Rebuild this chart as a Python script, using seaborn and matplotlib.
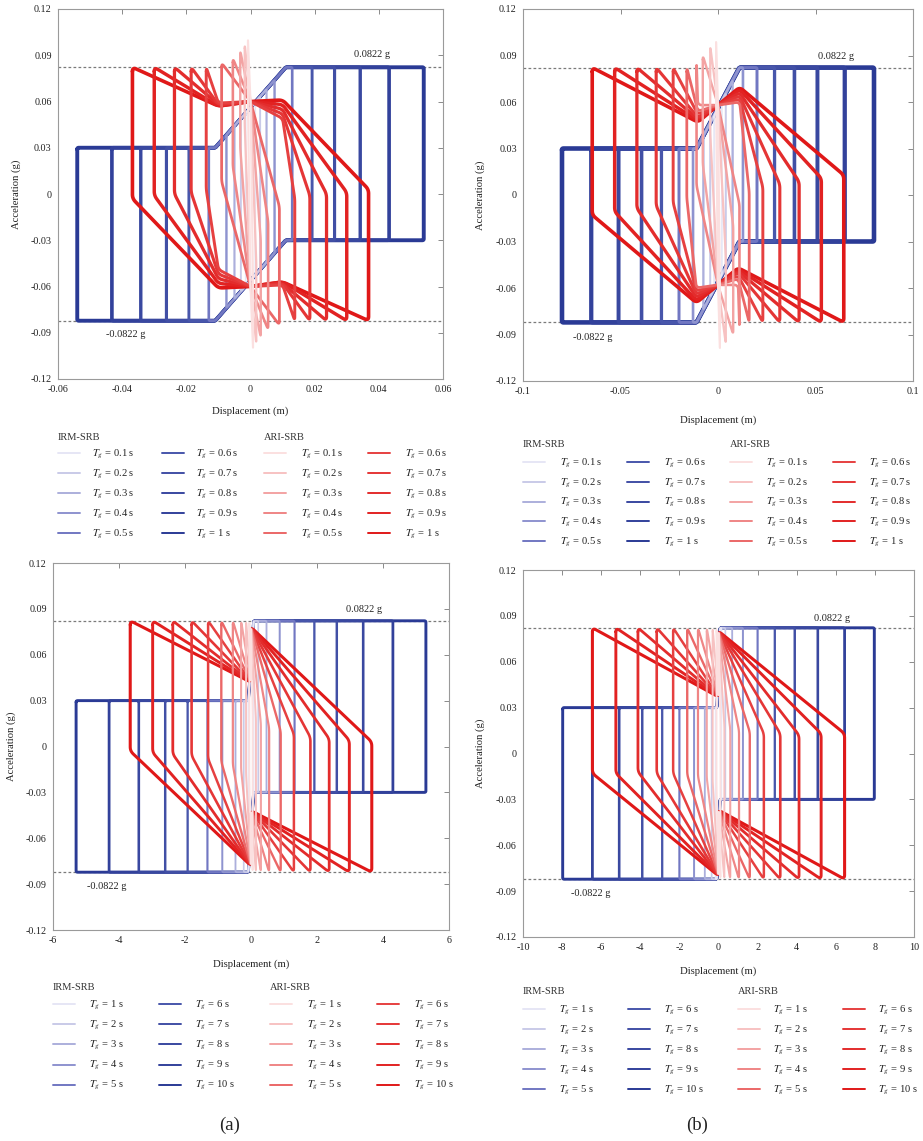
import numpy as np
import matplotlib
matplotlib.use("Agg")
import matplotlib.pyplot as plt
import seaborn as sns
from matplotlib.colors import to_rgb
from matplotlib.lines import Line2D

sns.set_theme(style="white")
plt.rcParams["font.family"] = ["Liberation Serif", "DejaVu Serif"]
plt.rcParams["mathtext.fontset"] = "stix"

# ---------------------------------------------------------------- data
LIMIT = 0.0822                      # peak ground acceleration (g)
IRM_LOW = 0.03                      # IRM-SRB lower force level (g)

tg_short = [0.1, 0.2, 0.3, 0.4, 0.5, 0.6, 0.7, 0.8, 0.9, 1.0]
tg_long = [1, 2, 3, 4, 5, 6, 7, 8, 9, 10]

# (a) top: Tg = 0.1 ... 1 s
a1_irm_amp = [0.0015, 0.0030, 0.0050, 0.0075, 0.0130, 0.0192, 0.0262, 0.0342, 0.0432, 0.0540]
a1_irm_yield = 0.011
a1_ari_amp = [0.0008, 0.0018, 0.0032, 0.0055, 0.0090, 0.0138, 0.0185, 0.0237, 0.0300, 0.0368]
a1_ari_peak = [0.101, 0.097, 0.093, 0.088, 0.085, 0.0822, 0.0822, 0.0822, 0.0822, 0.0822]
a1_ari_end = [-0.060, -0.045, -0.030, -0.018, -0.008, -0.003, -0.001, 0.000, 0.001, 0.003]
a1_knee_x = [-0.010, 0.0, 0.010]
a1_knee_left = [0.060, 0.060, 0.060, 0.060, 0.060, 0.059, 0.058, 0.058, 0.057, 0.057]
a1_knee_mid = 0.060
a1_knee_right = [0.060, 0.060, 0.060, 0.060, 0.060, 0.049, 0.052, 0.055, 0.058, 0.061]

# (b) top: Tg = 0.1 ... 1 s
b1_irm_amp = [0.0020, 0.0040, 0.0075, 0.0128, 0.0200, 0.0290, 0.0392, 0.0510, 0.0650, 0.0800]
b1_irm_yield = 0.011
b1_ari_amp = [0.0010, 0.0040, 0.0078, 0.0110, 0.0160, 0.0230, 0.0317, 0.0416, 0.0530, 0.0645]
b1_ari_peak = [0.100, 0.096, 0.090, 0.085, 0.0822, 0.0822, 0.0822, 0.0822, 0.0822, 0.0822]
b1_ari_end = [-0.060, -0.040, -0.020, -0.006, 0.002, 0.005, 0.007, 0.0086, 0.0108, 0.0129]
b1_knee_x = [-0.0103, 0.0, 0.0111]
b1_knee_left = [0.058, 0.058, 0.058, 0.058, 0.054, 0.052, 0.050, 0.049, 0.048, 0.047]
b1_knee_mid = 0.058
b1_knee_right = [0.058, 0.058, 0.058, 0.058, 0.060, 0.062, 0.064, 0.066, 0.068, 0.0695]

# (a) bottom: Tg = 1 ... 10 s
a2_irm_amp = [0.08, 0.22, 0.47, 0.87, 1.32, 1.92, 2.60, 3.40, 4.30, 5.30]
a2_irm_yield = 0.08
a2_ari_amp = [0.05, 0.15, 0.30, 0.55, 0.90, 1.30, 1.80, 2.37, 2.98, 3.66]
a2_ari_end = [0.020, 0.018, 0.015, 0.012, 0.010, 0.008, 0.006, 0.005, 0.004, 0.003]
a2_jump = [0.042, 0.078]

# (b) bottom: Tg = 1 ... 10 s
b2_irm_amp = [0.15, 0.35, 0.70, 1.25, 2.00, 2.88, 3.90, 5.08, 6.45, 7.97]
b2_irm_yield = 0.08
b2_ari_amp = [0.10, 0.30, 0.60, 1.05, 1.60, 2.32, 3.16, 4.12, 5.25, 6.45]
b2_ari_end = [0.020, 0.018, 0.016, 0.015, 0.014, 0.013, 0.013, 0.012, 0.013, 0.013]
b2_jump = [0.037, 0.080]

x_ticks_a1 = [-0.06, -0.04, -0.02, 0, 0.02, 0.04, 0.06]
x_ticks_b1 = [-0.1, -0.05, 0, 0.05, 0.1]
x_ticks_a2 = [-6, -4, -2, 0, 2, 4, 6]
x_ticks_b2 = [-10, -8, -6, -4, -2, 0, 2, 4, 6, 8, 10]
y_ticks = [-0.12, -0.09, -0.06, -0.03, 0, 0.03, 0.06, 0.09, 0.12]

# ---------------------------------------------------------------- helpers
W, H = 923, 1141


def fx(px):
    return px / W


def fy(py):
    return 1 - py / H


def ramp(c0, c1, n):
    a, b = np.array(to_rgb(c0)), np.array(to_rgb(c1))
    return [tuple(a + (b - a) * t) for t in np.linspace(0, 1, n)]


BLUES = ramp("#e6e6f5", "#7177c2", 5) + ramp("#4856ab", "#2a3a95", 5)
REDS = ramp("#fbe0e0", "#eb6767", 5) + ramp("#e64040", "#e01818", 5)


def closed_loop(xs, ys):
    """Upper branch followed by its point reflection gives the full cycle."""
    xs = np.asarray(xs, float)
    ys = np.asarray(ys, float)
    return np.concatenate([xs, -xs, xs[:1]]), np.concatenate([ys, -ys, ys[:1]])


def rounded(px, py, sx, sy, d, n=7):
    pts = np.column_stack([px / sx, py / sy])[:-1]
    keep = [pts[0]]
    for p in pts[1:]:
        if np.hypot(*(p - keep[-1])) > 1e-9:
            keep.append(p)
    pts = np.array(keep)
    if np.hypot(*(pts[0] - pts[-1])) < 1e-9:
        pts = pts[:-1]
    m = len(pts)
    t = np.linspace(0, 1, n)[:, None]
    out = []
    for i in range(m):
        p0, p1, p2 = pts[i - 1], pts[i], pts[(i + 1) % m]
        v0, v2 = p0 - p1, p2 - p1
        l0, l2 = np.hypot(*v0), np.hypot(*v2)
        a = p1 + v0 * min(d, 0.45 * l0) / l0
        b = p1 + v2 * min(d, 0.45 * l2) / l2
        out.append((1 - t) ** 2 * a + 2 * (1 - t) * t * p1 + t ** 2 * b)
    out = np.vstack(out + [out[0][:1]])
    return out[:, 0] * sx, out[:, 1] * sy


def irm_branch(amp, dy):
    xs = [-amp] + [k for k in (-dy, dy) if -amp < k < amp] + [amp]
    ys = np.interp(xs, [-dy, dy], [IRM_LOW, LIMIT])
    return xs, ys


def ari_branch(amp, peak, end, knots):
    xs, ys = [-amp], [peak]
    for kx, ky in knots:
        if -amp < kx < amp:
            xs.append(kx)
            ys.append(ky)
    xs.append(amp)
    ys.append(end)
    return xs, ys


def style_axes(ax, xlim, xticks, xpad, ypad):
    ax.set_xlim(*xlim)
    ax.set_ylim(-0.12, 0.12)
    ax.set_xticks(xticks)
    ax.set_xticklabels([f"{np.round(v, 4):g}" for v in xticks])
    ax.set_yticks(y_ticks)
    ax.set_yticklabels([f"{np.round(v, 4):g}" for v in y_ticks])
    ax.tick_params(direction="in", top=True, right=True, length=3.5, width=0.7,
                   color="#8a8a8a", labelsize=7.3, labelcolor="#222222", pad=4.5)
    for s in ax.spines.values():
        s.set_color("#9a9a9a")
        s.set_linewidth(0.8)
    ax.set_xlabel("Displacement (m)", fontsize=7.7, color="#222222", labelpad=xpad)
    ax.set_ylabel("Acceleration (g)", fontsize=7.7, color="#222222", labelpad=ypad)
    ax.axhline(LIMIT, color="#7a7a7a", lw=0.9, ls=(0, (2.2, 1.8)), zorder=0.5)
    ax.axhline(-LIMIT, color="#7a7a7a", lw=0.9, ls=(0, (2.2, 1.8)), zorder=0.5)


def draw_panel(ax, xlim, xticks, irm_amp, dy, ari_amp, ari_peak, ari_end, knot_fn,
               blue_lw, red_lw, text_pos, xpad, ypad):
    sx, sy = xlim[1] - xlim[0], 0.24
    # widest cycles first so the shorter ones stay visible on shared segments
    for i in reversed(range(len(irm_amp))):
        px, py = closed_loop(*irm_branch(irm_amp[i], dy))
        px, py = rounded(px, py, sx, sy, 0.004)
        lw = blue_lw[0] + (blue_lw[1] - blue_lw[0]) * i / 9
        sns.lineplot(x=px, y=py, sort=False, estimator=None, color=BLUES[i],
                     lw=lw, ax=ax, legend=False, solid_joinstyle="round")
    for i in reversed(range(len(ari_amp))):
        px, py = closed_loop(*ari_branch(ari_amp[i], ari_peak[i], ari_end[i], knot_fn(i)))
        px, py = rounded(px, py, sx, sy, 0.011)
        lw = red_lw[0] + (red_lw[1] - red_lw[0]) * i / 9
        sns.lineplot(x=px, y=py, sort=False, estimator=None, color=REDS[i],
                     lw=lw, ax=ax, legend=False, solid_joinstyle="round")
    style_axes(ax, xlim, xticks, xpad, ypad)
    (tx, ty), (bx, by) = text_pos
    ax.text(tx, ty, f"{LIMIT} g", fontsize=7.4, ha="center", va="center", color="#222222")
    ax.text(bx, by, f"-{LIMIT} g", fontsize=7.4, ha="center", va="center", color="#222222")


def draw_key(fig, x0, title_y, row_y, row_dy, col_dx, text_dx, title, values, colors):
    fig.text(fx(x0), fy(title_y), title, fontsize=7.5, ha="left", va="center",
             color="#333333")
    for k, (v, c) in enumerate(zip(values, colors)):
        col, row = divmod(k, 5)
        xh = x0 + col * col_dx
        yh = row_y + row * row_dy
        fig.add_artist(Line2D([fx(xh), fx(xh + 22)], [fy(yh), fy(yh)], color=c, lw=1.4))
        fig.text(fx(xh + text_dx), fy(yh + 3.2), rf"$T_g$ = {v:g} s", fontsize=7.6,
                 ha="left", va="baseline", color="#222222")


# ---------------------------------------------------------------- figure
fig = plt.figure(figsize=(W / 100, H / 100), dpi=100)
fig.patch.set_facecolor("white")

ax_a1 = fig.add_axes([fx(58), fy(379), (443 - 58) / W, (379 - 9) / H])
ax_b1 = fig.add_axes([fx(523), fy(381), (913 - 523) / W, (381 - 9) / H])
ax_a2 = fig.add_axes([fx(53), fy(930), (449 - 53) / W, (930 - 563) / H])
ax_b2 = fig.add_axes([fx(523), fy(937), (914 - 523) / W, (937 - 570) / H])

draw_panel(ax_a1, (-0.06, 0.06), x_ticks_a1, a1_irm_amp, a1_irm_yield,
           a1_ari_amp, a1_ari_peak, a1_ari_end,
           lambda i: list(zip(a1_knee_x, [a1_knee_left[i], a1_knee_mid, a1_knee_right[i]])),
           (1.2, 2.8), (1.5, 2.6), ((0.0379, 0.0905), (-0.0389, -0.0912)), 9, 7)

draw_panel(ax_b1, (-0.1, 0.1), x_ticks_b1, b1_irm_amp, b1_irm_yield,
           b1_ari_amp, b1_ari_peak, b1_ari_end,
           lambda i: list(zip(b1_knee_x, [b1_knee_left[i], b1_knee_mid, b1_knee_right[i]])),
           (1.2, 3.3), (1.5, 2.6), ((0.0607, 0.0893), (-0.0641, -0.0922)), 14, 8)

draw_panel(ax_a2, (-6, 6), x_ticks_a2, a2_irm_amp, a2_irm_yield,
           a2_ari_amp, [LIMIT] * 10, a2_ari_end,
           lambda i: [(0.0, a2_jump[0]), (0.0, a2_jump[1])],
           (1.1, 2.1), (1.3, 2.2), ((3.44, 0.0895), (-4.36, -0.0918)), 10, 7)

draw_panel(ax_b2, (-10, 10), x_ticks_b2, b2_irm_amp, b2_irm_yield,
           b2_ari_amp, [LIMIT] * 10, b2_ari_end,
           lambda i: [(0.0, b2_jump[0]), (0.0, b2_jump[1])],
           (1.1, 2.1), (1.3, 2.2), ((5.82, 0.0885), (-6.53, -0.0918)), 10, 8)

# keys
draw_key(fig, 58, 437, 453, 20, 104, 34, "IRM-SRB", tg_short, BLUES)
draw_key(fig, 264, 437, 453, 20, 104, 37, "ARI-SRB", tg_short, REDS)
draw_key(fig, 523, 445, 462, 19.8, 104, 37, "IRM-SRB", tg_short, BLUES)
draw_key(fig, 730, 445, 462, 19.8, 103, 36, "ARI-SRB", tg_short, REDS)
draw_key(fig, 53, 988, 1004, 20.2, 106, 36, "IRM-SRB", tg_long, BLUES)
draw_key(fig, 270, 988, 1004, 20.2, 107, 37, "ARI-SRB", tg_long, REDS)
draw_key(fig, 523, 992, 1009, 20, 105, 36, "IRM-SRB", tg_long, BLUES)
draw_key(fig, 738, 992, 1009, 20, 105, 35, "ARI-SRB", tg_long, REDS)

fig.text(fx(230), fy(1125), "(a)", fontsize=13.5, ha="center", va="center", color="#222222")
fig.text(fx(697), fy(1125), "(b)", fontsize=13.5, ha="center", va="center", color="#222222")

fig.savefig("out.png", dpi=100, facecolor="white")
